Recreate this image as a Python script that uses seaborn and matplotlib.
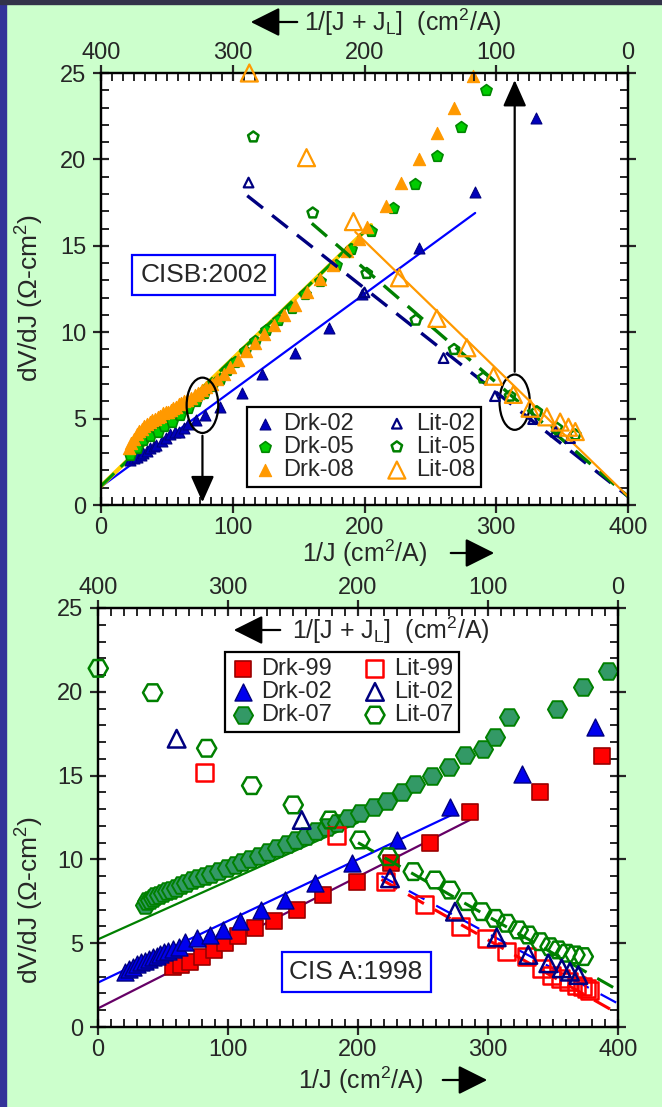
import numpy as np
import pandas as pd
import matplotlib
matplotlib.use('Agg')
import matplotlib.pyplot as plt
import seaborn as sns
from matplotlib.patches import Ellipse, Rectangle, FancyArrowPatch
from matplotlib.ticker import MultipleLocator, AutoMinorLocator

# ---------------- data: top panel (CISB:2002) ----------------
drk02_x = [22, 25, 27, 30, 32, 35, 37, 40, 42, 46, 49, 52, 56, 59, 63, 66, 72, 79, 90, 107, 122, 147, 173, 198, 241, 284, 330]
drk02_y = [2.6, 2.7, 2.8, 2.9, 3.0, 3.1, 3.3, 3.4, 3.5, 3.7, 3.85, 4.1, 4.2, 4.25, 4.45, 4.7, 4.9, 5.2, 5.7, 6.5, 7.6, 8.8, 10.25, 12.2, 14.9, 18.1, 22.4]
drk05_x = [22, 27, 32, 37, 43, 48, 54, 60, 66, 72, 78, 84, 90, 96, 102, 109, 117, 125, 134, 145, 155, 166, 178, 190, 205, 222, 238, 255, 273, 292]
drk05_y = [2.9, 3.3, 3.75, 4.0, 4.25, 4.55, 4.8, 5.2, 5.6, 6.0, 6.5, 6.9, 7.3, 7.8, 8.3, 8.9, 9.5, 10.1, 10.7, 11.4, 12.2, 12.95, 13.9, 14.8, 15.85, 17.2, 18.6, 20.2, 21.9, 24.0]
drk08_x = [21, 23, 25, 27, 29, 31, 33, 35, 37, 39, 41, 43, 45, 47, 49, 51, 53, 55, 57, 59, 61, 63, 65, 68, 71, 74, 77, 80, 84, 88,
           93, 98, 104, 110, 117, 124, 131, 139, 147, 156, 166, 176, 187, 196, 202, 216, 228, 241, 255, 268, 282]
drk08_y = [3.3, 3.6, 3.8, 4.1, 4.3, 4.4, 4.6, 4.7, 4.8, 4.9, 5.0, 5.1, 5.15, 5.3, 5.4, 5.4, 5.5, 5.6, 5.7, 5.85, 5.9, 6.0, 6.1, 6.2, 6.35, 6.5, 6.65, 6.8, 7.0, 7.3,
           7.6, 8.0, 8.4, 8.9, 9.4, 9.9, 10.4, 11.0, 11.6, 12.3, 13.1, 13.9, 14.7, 15.4, 16.1, 17.3, 18.66, 20.05, 21.5, 23.0, 24.8]
# light (plotted against 1/[J+JL], top axis)
lit02_x = [288, 200, 140, 101, 72, 55, 44]
lit02_y = [18.66, 12.3, 8.5, 6.3, 4.97, 4.25, 3.87]
lit05_x = [284.4, 239.3, 198.3, 161, 132, 110, 89.5, 69.2, 54, 40]
lit05_y = [21.3, 16.9, 13.4, 10.7, 9.0, 7.35, 6.3, 5.4, 4.45, 4.06]
lit08_x = [287.4, 244, 208.4, 173.5, 145.1, 122.3, 102.1, 87, 74.3, 61.6, 51.5, 45.2, 40]
lit08_y = [25.0, 20.1, 16.4, 13.15, 10.8, 9.1, 7.45, 6.4, 5.6, 5.1, 4.8, 4.5, 4.25]
# fit lines (endpoints)
fit_drk02_x, fit_drk02_y = [0, 284], [1.06, 16.9]
fit_drk05_x, fit_drk05_y = [0, 205], [1.1, 16.2]
fit_drk08_x, fit_drk08_y = [0, 205], [1.1, 16.2]
fit_lit02_x, fit_lit02_y = [289, 0], [17.9, 0.5]
fit_lit05_x, fit_lit05_y = [240, 0], [16.3, 0.5]
fit_lit08_x, fit_lit08_y = [207, 0], [15.8, 0.5]

# ---------------- data: bottom panel (CISA:1998) ----------------
b_drk99_x = [58, 64, 71, 80, 89, 98, 108, 121, 135, 153, 173, 199, 225, 255, 286, 340, 388]
b_drk99_y = [3.6, 3.7, 3.9, 4.2, 4.6, 5.0, 5.4, 5.9, 6.3, 7.0, 7.9, 8.67, 9.77, 10.96, 12.8, 14.04, 16.17]
b_drk02_x = [21, 24, 27, 30, 33, 36, 39, 42, 45, 48, 51, 54, 58, 62, 67, 76, 86, 96, 109, 125, 144, 167, 195, 230, 271, 326, 382]
b_drk02_y = [3.3, 3.45, 3.6, 3.75, 3.85, 3.95, 4.05, 4.15, 4.25, 4.35, 4.45, 4.55, 4.65, 4.8, 5.09, 5.3, 5.5, 5.8, 6.3, 7.0, 7.6, 8.6, 9.77, 11.16, 13.14, 15.1, 17.9]
b_drk07_x = [36, 38, 40, 42, 44, 47, 50, 53, 56, 60, 64, 68, 72, 77, 82, 87, 93, 99, 105, 111, 117, 124, 131, 138, 145, 152, 160, 168,
             176, 184, 192, 201.5, 212, 222, 234, 244, 257, 270, 282, 296, 305, 316, 353, 373, 392.5]
b_drk07_y = [7.3, 7.5, 7.6, 7.7, 7.8, 7.9, 8.0, 8.1, 8.2, 8.3, 8.45, 8.6, 8.75, 8.9, 9.0, 9.15, 9.3, 9.5, 9.65, 9.85, 10.0, 10.2, 10.45, 10.7,
             10.9, 11.15, 11.4, 11.7, 11.95, 12.2, 12.45, 12.75, 13.1, 13.5, 14.0, 14.5, 15.0, 15.5, 16.2, 16.6, 17.3, 18.5, 18.97, 20.27, 21.26]
b_lit99_x = [318.2, 216.4, 179.2, 148.5, 121.5, 101, 85.6, 70.2, 58.7, 51, 44.6, 38.2, 32, 27, 24, 22]
b_lit99_y = [15.2, 11.4, 8.67, 7.28, 5.98, 5.29, 4.49, 4.2, 3.5, 3.1, 2.9, 2.7, 2.5, 2.4, 2.3, 2.2]
b_lit02_x = [339.5, 243.3, 175.4, 125.4, 93.3, 69, 53.6, 43.3, 37, 30.5]
b_lit02_y = [17.2, 12.35, 8.87, 6.88, 5.35, 4.3, 3.8, 3.5, 3.3, 3.1]
b_lit07_x = [399.8, 358, 316.4, 281.8, 249.8, 221.5, 198.5, 176.7, 157.5, 140.8, 129.2, 116.4, 104.8, 94.6, 85.6, 76.7, 69, 60,
             52.3, 46, 39.5, 33.1, 26.7]
b_lit07_y = [21.4, 19.95, 16.63, 14.4, 13.25, 12.35, 11.16, 10.16, 9.27, 8.77, 8.17, 7.48, 6.88, 6.48, 6.19, 5.79, 5.49, 5.09,
             4.79, 4.6, 4.4, 4.3, 4.2]
b_fit_drk99_x, b_fit_drk99_y = [0, 286], [1.11, 12.35]
b_fit_drk02_x, b_fit_drk02_y = [0, 272], [2.65, 12.65]
b_fit_drk07_x, b_fit_drk07_y = [0, 200], [5.23, 12.2]
b_fit_lit99_x, b_fit_lit99_y = [182, 0], [8.8, 0.8]
b_fit_lit02_x, b_fit_lit02_y = [182, 0], [9.0, 1.4]
b_fit_lit07_x, b_fit_lit07_y = [200, 0], [11.0, 2.2]

x_ticks = [0, 100, 200, 300, 400]
y_ticks = [0, 5, 10, 15, 20, 25]

# ---------------- style ----------------
sns.set_style('ticks')
plt.rcParams['font.family'] = ['Liberation Sans', 'DejaVu Sans']
plt.rcParams['mathtext.fontset'] = 'custom'
plt.rcParams['mathtext.rm'] = 'Liberation Sans'
plt.rcParams['mathtext.it'] = 'Liberation Sans:italic'
plt.rcParams['mathtext.bf'] = 'Liberation Sans:bold'

W, H = 662, 1107
fig = plt.figure(figsize=(W / 100, H / 100), dpi=100, facecolor='#ccffcc')


def fx(px):
    return px / W


def fy(py):
    return 1 - py / H


fig.patches.append(Rectangle((0, 0), fx(6), 1, transform=fig.transFigure, color='#333399', zorder=0))
fig.patches.append(Rectangle((0, fy(4)), 1, 4 / H, transform=fig.transFigure, color='#33334a', zorder=0))

TICK_FS = 17
LAB_FS = 18


def pts(ax, x, y, marker, s, fc, ec, lw, label, z=3):
    sns.scatterplot(x=x, y=y, ax=ax, marker=marker, s=s,
                    color=(ec if fc == 'none' else fc), facecolor=fc, edgecolor=ec,
                    linewidth=lw, clip_on=False, zorder=z, legend=False)
    coll = ax.collections[-1]
    coll.set_label(label)
    return coll


def fit(ax, x, y, color, lw, dashes=None, z=2):
    sns.lineplot(x=x, y=y, ax=ax, color=color, lw=lw, zorder=z, sort=False)
    ln = ax.lines[-1]
    if dashes is not None:
        ln.set_dashes(dashes)
    return ln


def style_axes(ax, axt, xminor):
    ax.set_xlim(0, 400)
    ax.set_ylim(0, 25)
    axt.set_xlim(400, 0)
    ax.set_xticks(x_ticks)
    axt.set_xticks(x_ticks)
    ax.set_yticks(y_ticks)
    ax.xaxis.set_minor_locator(AutoMinorLocator(xminor))
    axt.xaxis.set_minor_locator(AutoMinorLocator(xminor))
    ax.yaxis.set_minor_locator(MultipleLocator(1))
    ax.set_facecolor('white')
    for a in (ax, axt):
        for sp in a.spines.values():
            sp.set_linewidth(1.6)
            sp.set_color('k')
    ax.tick_params(axis='x', which='major', direction='inout', length=11, width=1.6,
                   labelsize=TICK_FS, pad=3, bottom=True, top=False)
    ax.tick_params(axis='x', which='minor', direction='in', length=6, width=1.4, bottom=True, top=False)
    ax.tick_params(axis='y', which='major', direction='inout', length=11, width=1.6,
                   labelsize=TICK_FS, pad=5, left=True, right=True, labelright=False)
    ax.tick_params(axis='y', which='minor', direction='in', length=6, width=1.4, left=True, right=True)
    axt.tick_params(axis='x', which='major', direction='inout', length=11, width=1.6,
                    labelsize=TICK_FS, pad=1, top=True, bottom=False, labeltop=True, labelbottom=False)
    axt.tick_params(axis='x', which='minor', direction='in', length=6, width=1.4, top=True, bottom=False)
    ax.set_xlabel('')
    ax.set_ylabel('')
    axt.set_xlabel('')
    axt.set_ylabel('')


def arrow(x0, y0, x1, y1):
    fig.add_artist(FancyArrowPatch(
        (fx(x0), fy(y0)), (fx(x1), fy(y1)), transform=fig.transFigure,
        arrowstyle='-|>,head_length=0.9,head_width=0.45', mutation_scale=20, color='k', lw=1.6))


def make_legend(ax, handles, labels, x0, y0):
    leg = ax.legend(handles, labels, ncol=2, loc='upper left',
                    bbox_to_anchor=(fx(x0), fy(y0)), bbox_transform=fig.transFigure,
                    frameon=True, fancybox=False, edgecolor='k', framealpha=1, fontsize=17,
                    labelspacing=0.05, handletextpad=0.3, columnspacing=1.3, borderpad=0.25,
                    handlelength=1.0, borderaxespad=0, scatterpoints=1)
    leg.get_frame().set_linewidth(1.6)
    leg.set_zorder(10)
    return leg


# ================= top panel =================
ax1 = fig.add_axes([fx(101), fy(505), fx(628) - fx(101), (505 - 73) / H])
ax1t = ax1.twiny()

fit(ax1, fit_drk02_x, fit_drk02_y, '#0000ff', 1.6)
fit(ax1, fit_drk08_x, fit_drk08_y, '#ffcc00', 3.0)
fit(ax1, fit_drk05_x, fit_drk05_y, '#009900', 2.2, dashes=(6, 3))
h_d02 = pts(ax1, drk02_x, drk02_y, '^', 62, '#0000bb', '#000080', 0.8, 'Drk-02', 4)
h_d05 = pts(ax1, drk05_x, drk05_y, 'p', 72, '#00cc00', '#008800', 1.2, 'Drk-05', 4)
h_d08 = pts(ax1, drk08_x, drk08_y, '^', 78, '#ff9900', '#ff9900', 0.8, 'Drk-08', 5)

fit(ax1t, fit_lit02_x, fit_lit02_y, '#000080', 2.4, dashes=(6, 3.5))
fit(ax1t, fit_lit05_x, fit_lit05_y, '#008000', 2.4, dashes=(6, 3.5))
fit(ax1t, fit_lit08_x, fit_lit08_y, '#ff9900', 1.6)
h_l02 = pts(ax1t, lit02_x, lit02_y, '^', 48, 'none', '#000080', 1.6, 'Lit-02', 4)
h_l05 = pts(ax1t, lit05_x, lit05_y, 'p', 62, 'none', '#008000', 1.8, 'Lit-05', 4)
h_l08 = pts(ax1t, lit08_x, lit08_y, '^', 150, 'none', '#ff9900', 1.6, 'Lit-08', 4)

style_axes(ax1, ax1t, 12)

ax1.add_patch(Ellipse((77, 5.77), 24, 3.2, fc='none', ec='k', lw=1.6, zorder=6))
ax1.add_patch(Ellipse((314, 5.95), 23, 3.2, fc='none', ec='k', lw=1.6, zorder=6))
ax1.annotate('', xy=(77, 0), xytext=(77, 4.17), xycoords='data',
             arrowprops=dict(arrowstyle='-|>,head_length=0.9,head_width=0.4', mutation_scale=18, color='k', lw=1.6),
             zorder=6, annotation_clip=False)
ax1.annotate('', xy=(314, 24.75), xytext=(314, 7.55), xycoords='data',
             arrowprops=dict(arrowstyle='-|>,head_length=0.9,head_width=0.4', mutation_scale=18, color='k', lw=1.6),
             zorder=6, annotation_clip=False)

ax1t.text(78, 13.3, 'CISB:2002', fontsize=19, ha='center', va='center', zorder=8,
          transform=ax1.transData,
          bbox=dict(boxstyle='square,pad=0.3', fc='white', ec='#0000ff', lw=1.6))

make_legend(ax1t, [h_d02, h_d05, h_d08, h_l02, h_l05, h_l08],
            ['Drk-02', 'Drk-05', 'Drk-08', 'Lit-02', 'Lit-05', 'Lit-08'], 247, 407)

# labels top panel
arrow(300, 22, 248, 22)
fig.text(fx(304), fy(22), r'1/[J + J$_{\rm L}$]  (cm$^2$/A)', fontsize=LAB_FS, ha='left', va='center')
fig.text(fx(302), fy(553), r'1/J (cm$^2$/A)', fontsize=LAB_FS, ha='left', va='center')
arrow(448, 553, 497, 553)
fig.text(fx(30), fy(298), r'dV/dJ (Ω-cm$^2$)', fontsize=19, rotation=90, ha='center', va='center')

# ================= bottom panel =================
ax2 = fig.add_axes([fx(98), fy(1027), fx(618) - fx(98), (1027 - 608) / H])
ax2t = ax2.twiny()

fit(ax2, b_fit_drk07_x, b_fit_drk07_y, '#008000', 1.6)
fit(ax2, b_fit_drk02_x, b_fit_drk02_y, '#0000ff', 1.6)
fit(ax2, b_fit_drk99_x, b_fit_drk99_y, '#660066', 1.6)
h_b99 = pts(ax2, b_drk99_x, b_drk99_y, 's', 130, '#ff0000', '#990000', 1.2, 'Drk-99', 4)
h_b02 = pts(ax2, b_drk02_x, b_drk02_y, '^', 150, '#0000ee', '#000080', 1.0, 'Drk-02', 4)
h_b07 = pts(ax2, b_drk07_x, b_drk07_y, 'H', 190, '#339966', '#008000', 1.4, 'Drk-07', 3)

fit(ax2t, b_fit_lit99_x, b_fit_lit99_y, '#ff0000', 2.2, dashes=(6, 4))
fit(ax2t, b_fit_lit02_x, b_fit_lit02_y, '#0000ff', 1.6, dashes=(8, 6))
fit(ax2t, b_fit_lit07_x, b_fit_lit07_y, '#008000', 2.2, dashes=(6, 4))
h_bl99 = pts(ax2t, b_lit99_x, b_lit99_y, 's', 150, 'none', '#ff0000', 1.8, 'Lit-99', 4)
h_bl02 = pts(ax2t, b_lit02_x, b_lit02_y, '^', 160, 'none', '#000080', 1.8, 'Lit-02', 5)
h_bl07 = pts(ax2t, b_lit07_x, b_lit07_y, 'H', 190, 'none', '#008000', 1.8, 'Lit-07', 4)

style_axes(ax2, ax2t, 10)

ax2t.text(198.5, 3.3, 'CIS A:1998', fontsize=19, ha='center', va='center', zorder=8,
          transform=ax2.transData,
          bbox=dict(boxstyle='square,pad=0.3', fc='white', ec='#0000ff', lw=1.6))

make_legend(ax2t, [h_b99, h_b02, h_b07, h_bl99, h_bl02, h_bl07],
            ['Drk-99', 'Drk-02', 'Drk-07', 'Lit-99', 'Lit-02', 'Lit-07'], 225, 652)

arrow(283, 630, 231, 630)
fig.text(fx(292), fy(630), r'1/[J + J$_{\rm L}$]  (cm$^2$/A)', fontsize=LAB_FS, ha='left', va='center', zorder=12)
fig.text(fx(298), fy(1080), r'1/J (cm$^2$/A)', fontsize=LAB_FS, ha='left', va='center')
arrow(440, 1080, 490, 1080)
fig.text(fx(30), fy(900), r'dV/dJ (Ω-cm$^2$)', fontsize=19, rotation=90, ha='center', va='center')

fig.savefig('out.png', dpi=100, facecolor=fig.get_facecolor())
